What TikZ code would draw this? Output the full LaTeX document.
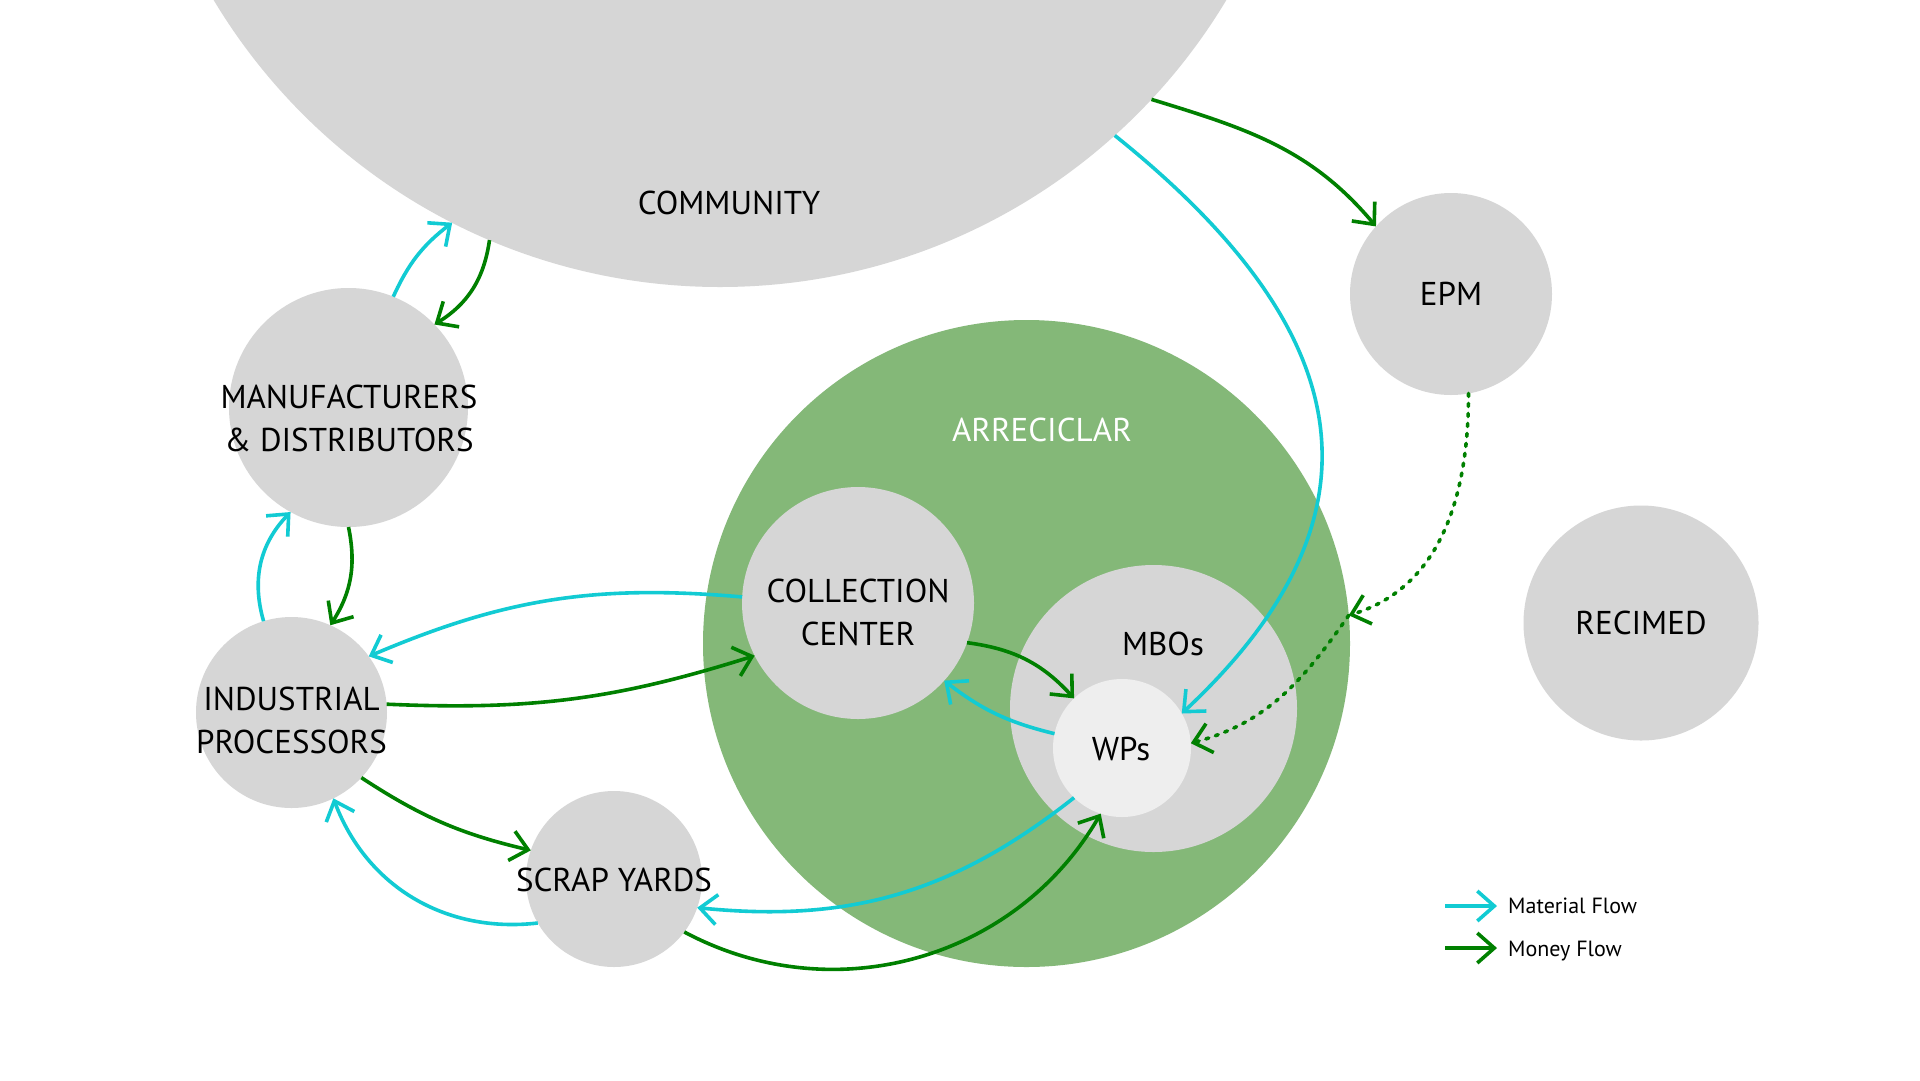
\documentclass[tikz,border=0pt]{standalone}
\usepackage{fontspec}
\setmainfont{PT Sans}
\usetikzlibrary{arrows.meta}
\definecolor{cgrey}{HTML}{D6D6D6}
\definecolor{cwp}{HTML}{EEEEEE}
\definecolor{carre}{HTML}{84B878}
\definecolor{ccyan}{HTML}{12CBD3}
\definecolor{cmoney}{HTML}{008000}
\begin{document}
\begin{tikzpicture}[x=1pt,y=-1pt,
  blob/.style={circle,fill=cgrey,draw=none,inner sep=0pt,outer sep=0pt,minimum size=#1},
  lbl/.style={inner sep=0pt,outer sep=0pt,align=center,font=\fontsize{33}{43}\selectfont},
  flow/.style={line width=3.6pt,-{Straight Barb[length=17pt,width=30pt]}},
  mat/.style={flow,draw=ccyan},
  mon/.style={flow,draw=cmoney},
  mondots/.style={mon,line cap=round,dash pattern=on 3pt off 7pt},
  legtext/.style={anchor=base west,inner sep=0pt,font=\fontsize{22}{27}\selectfont}
]
\useasboundingbox (0,0) rectangle (1920,1080);
\clip (0,0) rectangle (1920,1080);
\fill[white] (0,0) rectangle (1920,1080);

% circles
\node[blob=1180pt] (comm) at (720,-303) {};
\node[blob=647pt,fill=carre] (arre) at (1026.5,643.5) {};
\node[blob=232pt] (coll) at (858,603) {};
\node[blob=287pt] (mbos) at (1153.5,708.5) {};
\node[blob=138pt,fill=cwp] (wps) at (1122,748) {};
\node[blob=202pt] (epm) at (1451,294) {};
\node[blob=235pt] (recimed) at (1641,623) {};
\node[blob=239pt] (manuf) at (348.5,407.5) {};
\node[blob=191pt] (ind) at (291.5,712.5) {};
\node[blob=176pt] (scrap) at (614,879) {};

% labels
\node[lbl] (commt) at (729,203) {COMMUNITY};
\node[lbl,text=white] (arret) at (1042,430) {ARRECICLAR};
\node[lbl] (collt) at (858,612) {COLLECTION\\CENTER};
\node[lbl] (mbost) at (1163,644) {MBOs};
\node[lbl] (wpst) at (1121,749) {WPs};
\node[lbl] (epmt) at (1451,294) {EPM};
\node[lbl] (recimedt) at (1641,623) {RECIMED};
\node[lbl] (manuft) at (349,418) {MANUFACTURERS\\\& DISTRIBUTORS};
\node[lbl] (indt) at (291.5,720) {INDUSTRIAL\\PROCESSORS};
\node[lbl] (scrapt) at (614,880) {SCRAP YARDS};

% connectors
\draw[mat] (manuf.68.6) to[bend left=14] (comm.-117.4);
\draw[mon] (comm.-113.4) to[bend left=25] (manuf.44.7);
\draw[mat] (ind.107) to[bend left=30] (manuf.-119);
\draw[mon] (manuf.-90) to[bend left=22] (ind.66);
\draw[mat] (coll.177) to[bend right=14] (ind.36);
\draw[mon] (ind.5) to[bend right=10] (coll.-153);
\draw[mon] (ind.-43) to[bend right=10] (scrap.161);
\draw[mat] (scrap.-150.5) to[bend left=38] (ind.-64);
\draw[mat] (wps.-134) to[bend left=22] (scrap.-19);
\draw[mon] (scrap.-37) to[bend right=44] (wps.-108);
\draw[mon] (coll.-20) to[bend left=20] (wps.134);
\draw[mat] (wps.168) to[bend left=12] (coll.-42);
\draw[mat] (comm.-48.5) .. controls (1346,321) and (1404,506) .. (wps.30);
\draw[mon] (comm.-43.3) to[out=-17,in=130] (epm.138);
\draw[mondots] (epm.-80) to[out=-90,in=17] (arre.5);
\draw[mondots] (arre.5) to[out=-125,in=15] (wps.4);

% legend
\coordinate (l1a) at (1445,906);
\coordinate (l1b) at (1497,906);
\coordinate (l2a) at (1445,948);
\coordinate (l2b) at (1497,948);
\draw[mat] (l1a) -- (l1b);
\draw[mon] (l2a) -- (l2b);
\node[legtext] (l1t) at (1508,913) {Material Flow};
\node[legtext] (l2t) at (1508,956) {Money Flow};
\end{tikzpicture}
\end{document}
